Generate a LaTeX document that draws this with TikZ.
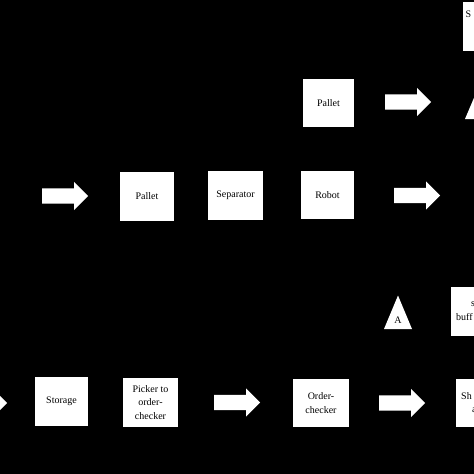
\documentclass[tikz,border=0pt]{standalone}
\usepackage{fontspec}
\setmainfont{Liberation Serif}
\usetikzlibrary{shapes.arrows}
\begin{document}
\begin{tikzpicture}[x=1pt,y=-1pt,
  box/.style={draw=none,fill=white,minimum width=54pt,minimum height=49pt,inner sep=1pt,align=center,font=\fontsize{10}{13.5}\selectfont,text=black},
  blk/.style={single arrow,fill=white,draw=none,minimum height=46pt,inner xsep=0pt,inner ysep=7.5pt,single arrow head extend=6.5pt,single arrow tip angle=90,single arrow head indent=0pt,anchor=tail},
  txt/.style={font=\fontsize{10}{13.5}\selectfont,text=black,inner sep=0pt},
  tri/.style={fill=white}]
\useasboundingbox (0,0) rectangle (474,474);
\fill[black] (0,0) rectangle (474,474);
\clip (0,0) rectangle (474,474);
% boxes
\node[box,minimum width=51pt,minimum height=48pt] (pallet1) at (328.5,103) {Pallet};
\node[box] (pallet2) at (147,196.5) {Pallet};
\node[box,minimum width=55pt] (sep) at (235.5,195.5) {Separator};
\node[box,minimum width=53pt,minimum height=48pt] (robot) at (327.5,195) {Robot};
\node[box,minimum width=53pt] (storage) at (61.5,401.5) {Storage};
\node[box,minimum width=55pt] (picker) at (150.5,402.5) {Picker to\\order-\\checker};
\node[box,minimum width=56pt,minimum height=48pt] (order) at (321,403) {Order-\\checker};
\node[box] (boxT) at (490,26.5) {};
\node[box] (boxM) at (478,311.5) {};
\node[box,minimum height=48pt] (boxB) at (483,403) {};
\node[txt,anchor=base west] (tT) at (465.5,17) {S};
\node[txt,align=left,anchor=base west] (tM) at (456,320) {\hspace*{15pt}s\\buff};
\node[txt,align=left,anchor=base west] (tB) at (461,412.5) {Sh\\\hspace*{11pt}a};
% block arrows
\node[blk] (a1) at (42,196) {};
\node[blk] (a2) at (385,102) {};
\node[blk] (a3) at (394,195.5) {};
\node[blk] (a4) at (-39,403) {};
\node[blk] (a5) at (214,402.5) {};
\node[blk] (a6) at (379,403) {};
% triangles
\coordinate (triAl) at (384,329);
\coordinate (triAt) at (398,295.5);
\coordinate (triAr) at (412,329);
\fill[tri] (triAl) -- (triAt) -- (triAr) -- cycle;
\node[txt] (tA) at (398,320) {A};
\coordinate (triBl) at (465,119);
\coordinate (triBt) at (479,86);
\coordinate (triBr) at (493,119);
\fill[tri] (triBl) -- (triBt) -- (triBr) -- cycle;
\end{tikzpicture}
\end{document}
